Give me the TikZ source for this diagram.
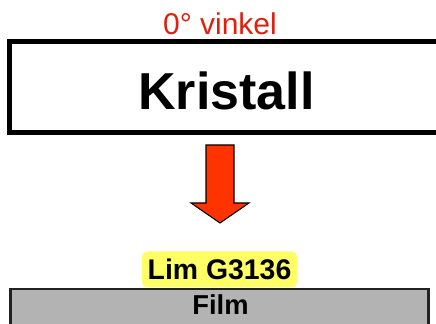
\documentclass[tikz,border=0pt]{standalone}
\usepackage{fontspec}
\setmainfont{Liberation Sans}
\definecolor{vinkelred}{HTML}{E0200C}
\definecolor{arrowred}{HTML}{FF3300}
\definecolor{limyellow}{HTML}{FFFF66}
\definecolor{filmgray}{HTML}{B3B3B3}
\definecolor{filmedge}{HTML}{222222}
\tikzset{
  lbl/.style={inner sep=0pt, anchor=base},
}
\begin{document}
\begin{tikzpicture}[x=0.75pt,y=-0.75pt]
\useasboundingbox (0,0) rectangle (436,324);
\begin{scope}
\clip (0,0) rectangle (436,324);
% Kristall box (open to the right, runs past the edge)
\draw[line width=3.75pt] (445,41.5) -- (9.8,41.5) -- (9.8,132.3) -- (445,132.3);
% Film box
\draw[fill=filmgray, draw=filmedge, line width=1.8pt] (10.5,330) -- (10.5,288.8) -- (428.5,288.8) -- (428.5,330);
\end{scope}
\node[lbl, text=vinkelred, font=\fontsize{22.5}{26}\selectfont] (vinkel) at (220,35) {0° vinkel};
\node[lbl, font=\fontsize{39}{44}\selectfont\bfseries] (kristall) at (226.5,110) {Kristall};
% Big down arrow
\draw[fill=arrowred, draw=black, line width=0.8pt]
  (206,145) -- (234,145) -- (234,203) -- (249,203) -- (220,223) -- (191,203) -- (206,203) -- cycle;
\node[fill=limyellow, rounded corners=4pt, minimum width=155*0.75pt, minimum height=36*0.75pt, inner sep=0pt,
      font=\fontsize{21.3}{24}\selectfont\bfseries] (lim) at (219.5,269.5) {Lim G3136};
\node[lbl, font=\fontsize{20.5}{24}\selectfont\bfseries] (film) at (220.5,315) {Film};
\end{tikzpicture}
\end{document}
